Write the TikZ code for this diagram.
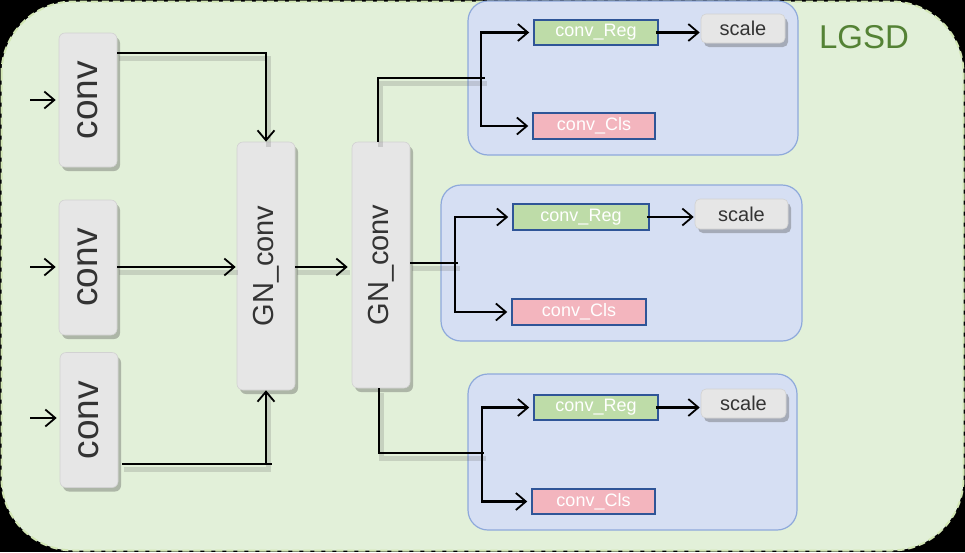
\documentclass[tikz,border=0pt]{standalone}
\usepackage{fontspec}
\setmainfont{Liberation Sans}
\usepackage{graphicx}
\usetikzlibrary{arrows.meta,shadows,calc}
\definecolor{bggreen}{HTML}{E2F0D9}
\definecolor{edgegreen}{HTML}{D2E6B4}
\definecolor{boxblue}{HTML}{D6DFF3}
\definecolor{boxblueedge}{HTML}{8EA9DB}
\definecolor{regfill}{HTML}{BEDCA8}
\definecolor{clsfill}{HTML}{F3B5BE}
\definecolor{darkblue}{HTML}{2F5597}
\definecolor{grayfill}{HTML}{E6E6E6}
\definecolor{grayedge}{HTML}{D2D2D2}
\definecolor{lgsdgreen}{HTML}{548235}
\definecolor{txtgray}{HTML}{333333}
\begin{document}
\begin{tikzpicture}[x=1pt,y=-1pt,
  graybox/.style={draw=grayedge, line width=0.6pt, fill=grayfill, rounded corners=6pt, inner sep=0pt,
    drop shadow={shadow xshift=3pt, shadow yshift=-4pt, opacity=0.35, fill=black!70}, text=txtgray},
  scalebox/.style={graybox, font=\fontsize{20}{20}\selectfont, rounded corners=5pt},
  bluebox/.style={draw=boxblueedge, line width=1.2pt, fill=boxblue, rounded corners=20pt, inner sep=0pt},
  regbox/.style={draw=darkblue, line width=1.5pt, fill=regfill, inner sep=0pt, text=white, font=\fontsize{18}{18}\selectfont},
  clsbox/.style={regbox, fill=clsfill},
  conn/.style={line width=2.1pt, black,
    preaction={draw=black!60, -, opacity=0.22, line width=5pt, transform canvas={xshift=2pt,yshift=-5pt}}},
  arr/.style={conn, -{Straight Barb[length=10pt,width=17pt,line width=1.8pt]}},
  plain/.style={line width=2.1pt, black, -{Straight Barb[length=10pt,width=17pt,line width=1.8pt]}}
]
\fill[black] (0,0) rectangle (965,552);
\useasboundingbox (0,0) rectangle (965,552);
\draw[fill=bggreen, draw=edgegreen, line width=2pt, dash pattern=on 7pt off 4pt, rounded corners=72pt] (1.5,1.5) rectangle (963.5,550.5);

% blue panels
\node[bluebox, minimum width=330, minimum height=154] (p1) at (633,78) {};
\node[bluebox, minimum width=361, minimum height=156] (p2) at (621.5,263) {};
\node[bluebox, minimum width=329, minimum height=156] (p3) at (632.5,452) {};

% gray conv boxes
\node[graybox, minimum width=58, minimum height=134, font=\fontsize{37}{37}\selectfont] (c1) at (88,100) {\rotatebox{90}{conv}};
\node[graybox, minimum width=58, minimum height=135, font=\fontsize{37}{37}\selectfont] (c2) at (88,267.5) {\rotatebox{90}{conv}};
\node[graybox, minimum width=58, minimum height=135, font=\fontsize{37}{37}\selectfont] (c3) at (89,420) {\rotatebox{90}{conv}};
\node[graybox, minimum width=58, minimum height=248, font=\fontsize{29}{29}\selectfont] (g1) at (266,266) {\rotatebox{90}{GN\_conv}};
\node[graybox, minimum width=58, minimum height=246, font=\fontsize{29}{29}\selectfont] (g2) at (381,265) {\rotatebox{90}{GN\_conv}};

% heads
\node[regbox, minimum width=124, minimum height=25] (r1) at (596,32.5) {conv\_Reg};
\node[clsbox, minimum width=122, minimum height=26] (k1) at (594,126) {conv\_Cls};
\node[scalebox, minimum width=84, minimum height=29] (s1) at (743,28.5) {scale};
\node[regbox, minimum width=136, minimum height=26] (r2) at (581,217) {conv\_Reg};
\node[clsbox, minimum width=134, minimum height=26] (k2) at (579,312) {conv\_Cls};
\node[scalebox, minimum width=93, minimum height=30] (s2) at (741.5,214) {scale};
\node[regbox, minimum width=124, minimum height=25] (r3) at (596,407.5) {conv\_Reg};
\node[clsbox, minimum width=123, minimum height=25] (k3) at (593.5,501.5) {conv\_Cls};
\node[scalebox, minimum width=85, minimum height=29] (s3) at (743.5,403.5) {scale};

\node[text=lgsdgreen, font=\fontsize{33}{33}\selectfont, anchor=center] (lgsd) at (864,37) {LGSD};

% input arrows
\coordinate (i1) at (30,100);
\coordinate (i2) at (30,267);
\coordinate (i3) at (30,418);
\draw[plain, shorten >=3pt] (i1) -- (c1.west |- i1);
\draw[plain, shorten >=3pt] (i2) -- (c2.west |- i2);
\draw[plain, shorten >=3pt] (i3) -- (c3.west |- i3);

% conv -> GN1
\draw[arr] (c1.east |- 0,53) -| (g1.north);
\draw[arr, shorten >=1pt] (c2.east |- 0,267) -- (g1.west |- 0,267);
\draw[arr] ([xshift=4pt]c3.east |- 0,464) -| (g1.south);
\draw[line width=2.1pt] (g1.south |- 0,464) -- ++(6,0);
\draw[arr, shorten >=4pt] (g1.east |- 0,267) -- (g2.west |- 0,267);

% GN2 -> heads
\coordinate (b1) at (481,78);
\coordinate (b2) at (455,263);
\coordinate (b3) at (482,453);
\draw[conn] ([xshift=-3pt]g2.north) |- ([xshift=4pt]b1);
\draw[conn, line width=2.6pt] (g2.east |- b2) -- ([xshift=3pt]b2);
\draw[conn, line width=2.6pt] ([xshift=-2pt]g2.south) |- ([xshift=2pt]b3);

\draw[plain, shorten >=4pt] (b1) |- (r1.west);
\draw[plain, shorten >=4pt] (b1) |- (k1.west);
\draw[plain, shorten >=4pt] (b2) |- (r2.west);
\draw[plain, shorten >=4pt] (b2) |- (k2.west);
\draw[plain, shorten >=4pt] (b3) |- (r3.west);
\draw[plain, shorten >=4pt] (b3) |- (k3.west);

\draw[plain, shorten >=1pt] ([xshift=-3pt]r1.east) -- (r1.east -| s1.west);
\draw[plain, shorten >=1pt] ([xshift=-3pt]r2.east) -- (r2.east -| s2.west);
\draw[plain, shorten >=1pt] ([xshift=-3pt]r3.east) -- (r3.east -| s3.west);
\end{tikzpicture}
\end{document}
